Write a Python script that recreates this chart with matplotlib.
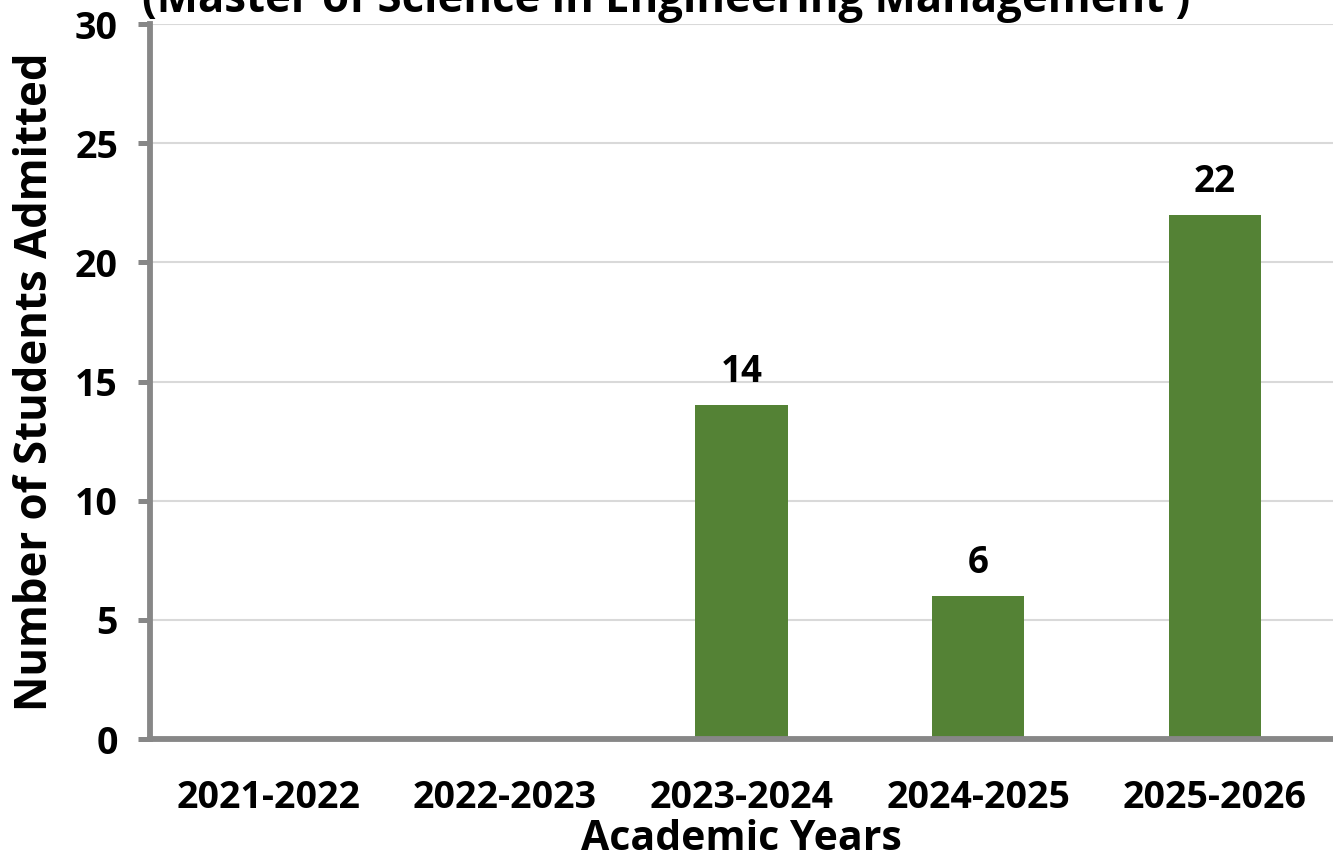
import numpy as np
import matplotlib
matplotlib.use("Agg")
import matplotlib.pyplot as plt

years = ["2021-2022", "2022-2023", "2023-2024", "2024-2025", "2025-2026"]
admitted = [0, 0, 14, 6, 22]
yticks = [0, 5, 10, 15, 20, 25, 30]

plt.rcParams['font.family'] = ['Open Sans', 'DejaVu Sans']
plt.rcParams['font.weight'] = 'bold'

bar_color = '#548235'
axis_gray = '#878787'

fig = plt.figure(figsize=(13.33, 8.61), dpi=100)
ax = fig.add_axes([150/1333, 1 - 739/861, 1 - 150/1333, (739 - 24)/861])

x = np.arange(len(years))
bars = ax.bar(x, admitted, width=0.39, color=bar_color, zorder=3)

# labels only on non-empty bars
for xi, v in zip(x, admitted):
    if v > 0:
        ax.annotate(str(v), (xi, v), xytext=(0, 10), textcoords='offset points',
                    ha='center', va='bottom', fontsize=26.5, fontweight='bold')

ax.set_xlim(-0.5, len(years) - 0.5)
ax.set_ylim(0, 30)
ax.set_yticks(yticks)
ax.set_xticks(x)
ax.set_xticklabels(years)
ax.tick_params(axis='x', length=0, pad=29, labelsize=27)
ax.tick_params(axis='y', length=9, width=3.6, color=axis_gray, pad=14, labelsize=27)

ax.grid(axis='y', color='#d9d9d9', linewidth=1.5, zorder=0)
ax.set_axisbelow(True)

for s in ['top', 'right']:
    ax.spines[s].set_visible(False)
for s in ['left', 'bottom']:
    ax.spines[s].set_color(axis_gray)
    ax.spines[s].set_linewidth(4.2)
    ax.spines[s].set_zorder(4)

ax.set_xlabel('Academic Years', fontsize=29.5, fontweight='bold', labelpad=1)
ax.set_ylabel('Number of Students Admitted', fontsize=31.5, fontweight='bold', labelpad=12)

fig.text(0.5, 1 - 12/861, '(Master of Science in Engineering Management )',
         ha='center', va='baseline', fontsize=31.5, fontweight='bold')

fig.savefig('out.png', dpi=100)
